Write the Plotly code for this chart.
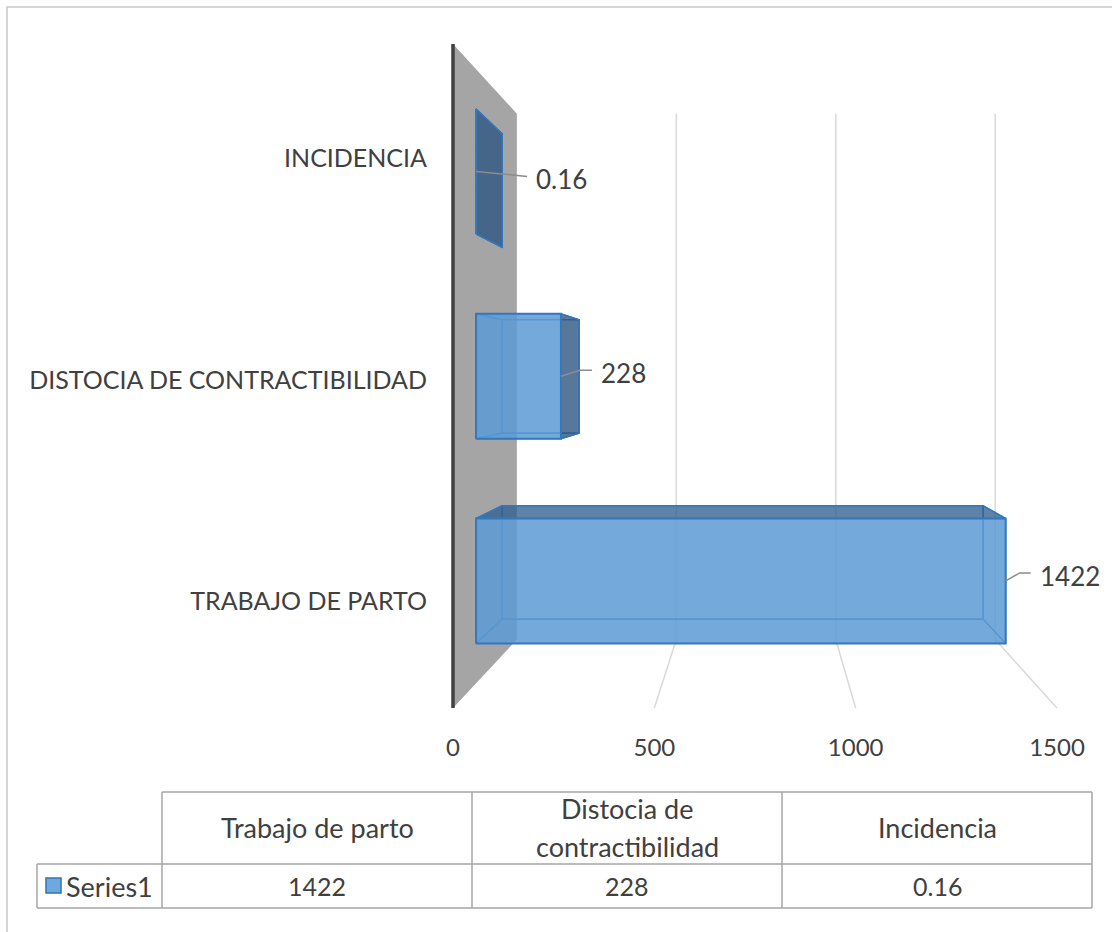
import plotly.graph_objects as go

# ---------------- data ----------------
categories = ["TRABAJO DE PARTO", "DISTOCIA DE CONTRACTIBILIDAD", "INCIDENCIA"]
table_headers = [["Trabajo de parto"], ["Distocia de", "contractibilidad"], ["Incidencia"]]
values = [1422, 228, 0.16]
value_labels = ["1422", "228", "0.16"]
series_name = "Series1"
x_ticks = [0, 500, 1000, 1500]

# ---------------- geometry / style ----------------
W, H = 1112, 932
FONT = "Lato"
TXT = "#404040"
PLOT_L, PLOT_R, PLOT_T, PLOT_B = 440, 1112, 30, 712
ZERO_PX, MAX_PX = 453, 1057          # front-plane pixel of first / last tick
FRONT_TOP, FRONT_BOT = 44, 708
VP_PX = (760, 379)                   # vanishing point (pixels)
S_BACK = 0.792                       # perspective scale of back plane
BAR_SF, BAR_SB = 0.925, 0.840        # perspective scale of bar front / back
HALF = 0.305                         # half bar thickness (category units)

ncat = len(categories)
K = (MAX_PX - ZERO_PX) / (x_ticks[-1] - x_ticks[0])
P = (FRONT_BOT - FRONT_TOP) / ncat
C_TOP = ncat - 0.5
C_BOT = -0.5

x_range = [(PLOT_L - ZERO_PX) / K, (PLOT_R - ZERO_PX) / K]
y_range = [C_TOP - (PLOT_B - FRONT_TOP) / P, C_TOP + (FRONT_TOP - PLOT_T) / P]
VX = (VP_PX[0] - ZERO_PX) / K
VC = C_TOP - (VP_PX[1] - FRONT_TOP) / P


def proj(v, c, s):
    return VX + s * (v - VX), VC + s * (c - VC)


def poly(pts, fill=None, color=None, width=1.0, closed=True):
    pp = [proj(*p) for p in pts]
    if closed:
        pp.append(pp[0])
    return go.Scatter(
        x=[p[0] for p in pp], y=[p[1] for p in pp], mode="lines",
        fill="toself" if fill else None, fillcolor=fill,
        line=dict(color=color or "rgba(0,0,0,0)", width=width if color else 0),
        hoverinfo="skip", showlegend=False)


fig = go.Figure()

GRID = "#d9d9d9"
for t in x_ticks[1:]:
    fig.add_trace(poly([(t, C_TOP, S_BACK), (t, C_BOT, S_BACK), (t, C_BOT, 1.0)],
                       color=GRID, width=1.5, closed=False))

# side wall at value 0
fig.add_trace(poly([(0, C_BOT, 1.0), (0, C_TOP, 1.0), (0, C_TOP, S_BACK), (0, C_BOT, S_BACK)],
                   fill="#a5a5a5"))
fig.add_trace(poly([(0, C_BOT, 1.0), (0, C_TOP, 1.0)], color="#404040", width=3.5, closed=False))

EDGE = "rgb(52,120,190)"
FRONT_FILL = "rgba(91,155,213,0.85)"
TB_FILL = "rgba(50,95,145,0.78)"
SIDE_FILL = "rgba(45,85,130,0.8)"

for i, v in enumerate(values):
    c = i
    v0, v1 = 0.0, v
    c0, c1 = c - HALF, c + HALF
    sf, sb = BAR_SF, BAR_SB
    faces = {
        "back": [(v0, c0, sb), (v1, c0, sb), (v1, c1, sb), (v0, c1, sb)],
        "top": [(v0, c1, sf), (v1, c1, sf), (v1, c1, sb), (v0, c1, sb)],
        "bottom": [(v0, c0, sf), (v1, c0, sf), (v1, c0, sb), (v0, c0, sb)],
        "left": [(v0, c0, sf), (v0, c1, sf), (v0, c1, sb), (v0, c0, sb)],
        "right": [(v1, c0, sf), (v1, c1, sf), (v1, c1, sb), (v1, c0, sb)],
    }
    visible = {
        "top": VC > c1, "bottom": VC < c0,
        "left": VX < v0, "right": VX > v1, "back": False,
    }
    # hidden edges first (seen through the translucent faces)
    for name, pts in faces.items():
        if not visible[name]:
            fig.add_trace(poly(pts, color=EDGE, width=1.2))
    for name, pts in faces.items():
        if visible[name]:
            fill = TB_FILL if name in ("top", "bottom") else SIDE_FILL
            fig.add_trace(poly(pts, fill=fill, color=EDGE, width=1.5))
    fig.add_trace(poly([(v0, c0, sf), (v1, c0, sf), (v1, c1, sf), (v0, c1, sf)],
                       fill=FRONT_FILL, color=EDGE, width=2))

# data labels with leader lines (offsets in pixels)
leader_offsets = [((14, -8), (25, -8)), ((19, -6), (31, -6)), ((40, 4), (51, 5))]
annotations = []
for i, v in enumerate(values):
    ax, ay = proj(v, i, BAR_SF)
    (ex, ey), (fx, fy) = leader_offsets[i]
    pts_x = [ax, ax + ex / K, ax + fx / K]
    pts_y = [ay, ay - ey / P, ay - fy / P]
    fig.add_trace(go.Scatter(x=pts_x, y=pts_y, mode="lines",
                             line=dict(color="#8c8c8c", width=1.5),
                             hoverinfo="skip", showlegend=False))
    annotations.append(dict(x=pts_x[-1] + 7 / K, y=pts_y[-1] - 3 / P, xref="x", yref="y",
                            text=value_labels[i], showarrow=False, xanchor="left",
                            yanchor="middle", font=dict(family=FONT, size=26, color=TXT)))

# ---------------- data table (paper = full figure) ----------------
def px(x):
    return x / W


def py(y):
    return 1 - y / H


TABLE_L, KEY_W, COL_W = 37, 125, 310
ROW_TOP, ROW_MID, ROW_BOT = 792, 864, 908
cols = [TABLE_L + KEY_W + j * COL_W for j in range(len(values) + 1)]
TLINE = dict(color="#a6a6a6", width=1.5)
shapes = []


def seg(x0, y0, x1, y1, line):
    shapes.append(dict(type="line", xref="paper", yref="paper",
                       x0=px(x0), y0=py(y0), x1=px(x1), y1=py(y1), line=line))


seg(cols[0], ROW_TOP, cols[-1], ROW_TOP, TLINE)
seg(TABLE_L, ROW_MID, cols[-1], ROW_MID, TLINE)
seg(TABLE_L, ROW_BOT, cols[-1], ROW_BOT, TLINE)
seg(TABLE_L, ROW_MID, TABLE_L, ROW_BOT, TLINE)
for cx in cols:
    seg(cx, ROW_TOP, cx, ROW_BOT, TLINE)

# chart border
shapes.append(dict(type="rect", xref="paper", yref="paper", x0=px(7), y0=py(7),
                   x1=px(W + 10), y1=py(H + 10), line=dict(color="#c8c8c8", width=1.5)))

# legend key
shapes.append(dict(type="rect", xref="paper", yref="paper", x0=px(46), y0=py(878),
                   x1=px(61), y1=py(893), fillcolor="rgb(112,167,220)",
                   line=dict(color="rgb(46,117,182)", width=1.5)))

TFONT = dict(family=FONT, size=27, color=TXT)
NFONT = dict(family=FONT, size=25, color=TXT)
hdr_mid = (ROW_TOP + ROW_MID) / 2
row_mid = (ROW_MID + ROW_BOT) / 2
LINE_H = 38
for j, lines in enumerate(table_headers):
    cx = (cols[j] + cols[j + 1]) / 2
    n = len(lines)
    for k, ln in enumerate(lines):
        yy = hdr_mid + (k - (n - 1) / 2) * LINE_H - 1
        annotations.append(dict(x=px(cx), y=py(yy), xref="paper", yref="paper", text=ln,
                                showarrow=False, xanchor="center", yanchor="middle", font=TFONT))
    annotations.append(dict(x=px(cx), y=py(row_mid), xref="paper", yref="paper",
                            text=value_labels[j], showarrow=False, xanchor="center",
                            yanchor="middle", font=NFONT))
annotations.append(dict(x=px(64), y=py(row_mid), xref="paper", yref="paper", text=series_name,
                        showarrow=False, xanchor="left", yanchor="middle", font=TFONT))

fig.update_layout(
    width=W, height=H, margin=dict(l=0, r=0, t=0, b=0),
    paper_bgcolor="white", plot_bgcolor="rgba(0,0,0,0)", template="none",
    showlegend=False, shapes=shapes, annotations=annotations,
    xaxis=dict(domain=[PLOT_L / W, PLOT_R / W], range=x_range, automargin=False,
               showgrid=False, zeroline=False, showline=False,
               tickmode="array", tickvals=x_ticks, ticktext=[str(t) for t in x_ticks],
               ticks="outside", ticklen=14, tickcolor="rgba(0,0,0,0)",
               tickfont=dict(family=FONT, size=24, color=TXT), fixedrange=True),
    yaxis=dict(domain=[1 - PLOT_B / H, 1 - PLOT_T / H], range=y_range, automargin=False,
               showgrid=False, zeroline=False, showline=False,
               tickmode="array", tickvals=list(range(ncat)), ticktext=categories,
               ticks="outside", ticklen=7, tickcolor="rgba(0,0,0,0)", ticklabelshift=4,
               tickfont=dict(family=FONT, size=25, color=TXT), fixedrange=True),
)

fig.write_html("out.html", config={"displayModeBar": False})
